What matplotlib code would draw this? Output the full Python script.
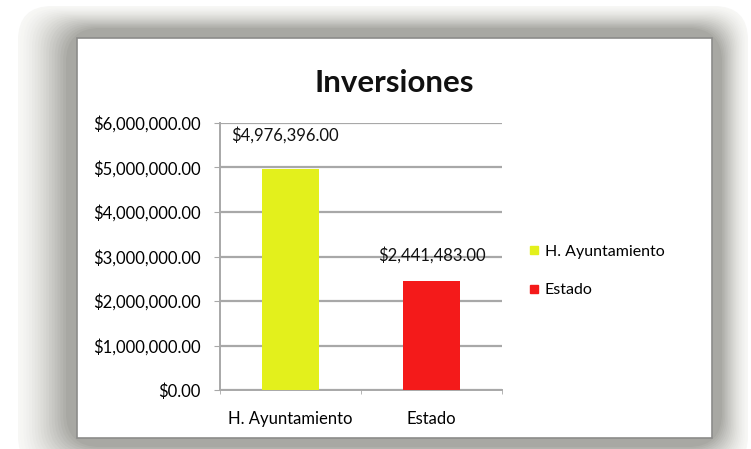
"""
Inversiones: H. Ayuntamiento vs Estado (Excel-style bar chart in a shadowed frame).
"""

import matplotlib
matplotlib.use("Agg")
import matplotlib.pyplot as plt
from matplotlib.patches import FancyBboxPatch, Rectangle
from matplotlib.lines import Line2D
from matplotlib.ticker import FuncFormatter, MultipleLocator
import numpy as np

CATEGORIES = ["H. Ayuntamiento", "Estado"]
VALUES = [4976396.00, 2441483.00]
COLORS = ["#e3f01c", "#f41a1a"]
TITLE = "Inversiones"

W, H = 751, 449
plt.rcParams["font.family"] = ["Lato", "DejaVu Sans"]


def money(v, pos=None):
    return f"${v:,.2f}"


def draw_frame(fig):
    # background axes in pixel coordinates for the shadowed frame
    bg = fig.add_axes([0, 0, 1, 1])
    bg.set_xlim(0, W)
    bg.set_ylim(H, 0)
    bg.axis("off")

    n = 18
    outer = (18, 6, 748, 470)
    inner = (66, 28, 722, 447)
    c_out = np.array([0.97, 0.97, 0.96])
    c_in = np.array([0.66, 0.66, 0.64])
    for i in range(n):
        t = i / (n - 1)
        x0 = outer[0] + (inner[0] - outer[0]) * t
        y0 = outer[1] + (inner[1] - outer[1]) * t
        x1 = outer[2] + (inner[2] - outer[2]) * t
        y1 = outer[3] + (inner[3] - outer[3]) * t
        col = c_out + (c_in - c_out) * t ** 1.4
        bg.add_patch(FancyBboxPatch((x0, y0), x1 - x0, y1 - y0,
                                    boxstyle="round,pad=0,rounding_size=34",
                                    fc=col, ec="none"))
    bg.add_patch(Rectangle((77, 38), 712 - 77, 438 - 38, fc="white",
                           ec="#8c8c8a", lw=1.2))


def main():
    fig = plt.figure(figsize=(W / 100, H / 100), dpi=100)
    fig.patch.set_facecolor("white")
    draw_frame(fig)

    ax = fig.add_axes([220 / W, 59 / H, 282 / W, 267 / H])
    ax.set_facecolor("none")
    x = np.arange(len(CATEGORIES))
    ax.bar(x, VALUES, width=0.4, color=COLORS, zorder=3)

    ax.set_xlim(-0.5, len(CATEGORIES) - 0.5)
    ax.set_ylim(0, 6000000)
    ax.yaxis.set_major_locator(MultipleLocator(1000000))
    ax.yaxis.set_major_formatter(FuncFormatter(money))
    ax.set_xticks(x)
    ax.set_xticklabels(CATEGORIES)
    ax.set_xticks([-0.5, 0.5, 1.5], minor=True)

    ax.grid(axis="y", color="#a8a8a8", lw=1.6, zorder=0)
    for s in ["top", "right"]:
        ax.spines[s].set_visible(False)
    for s in ["left", "bottom"]:
        ax.spines[s].set_color("#a8a8a8")
        ax.spines[s].set_linewidth(1.4)
    ax.tick_params(axis="y", length=4, color="#a8a8a8", labelsize=12, pad=10)
    ax.tick_params(axis="x", which="major", length=0, labelsize=12, pad=15)
    ax.tick_params(axis="x", which="minor", length=3, color="#a8a8a8")

    # label offsets in pixels above each bar top
    label_shift = [(-6, 33), (0, 26)]
    for xi, v, (dx, dy) in zip(x, VALUES, label_shift):
        ax.annotate(money(v), (xi, v), xytext=(dx * 0.72, dy * 0.72),
                    textcoords="offset points", ha="center", va="center",
                    fontsize=12, color="#111111", zorder=4)

    fig.text(394 / W, 1 - 83 / H, TITLE, ha="center", va="center",
             fontsize=22.5, fontweight="bold", color="#111111")

    handles = [Line2D([], [], marker="s", ls="none", color=c, markersize=6)
               for c in COLORS]
    fig.legend(handles, CATEGORIES, loc="center left",
               bbox_to_anchor=(512 / W, 1 - 271 / H), frameon=False,
               fontsize=11.5, handletextpad=0.15, handlelength=1.0,
               labelspacing=1.5)

    fig.savefig("out.png", dpi=100)
    plt.close(fig)


if __name__ == "__main__":
    main()
